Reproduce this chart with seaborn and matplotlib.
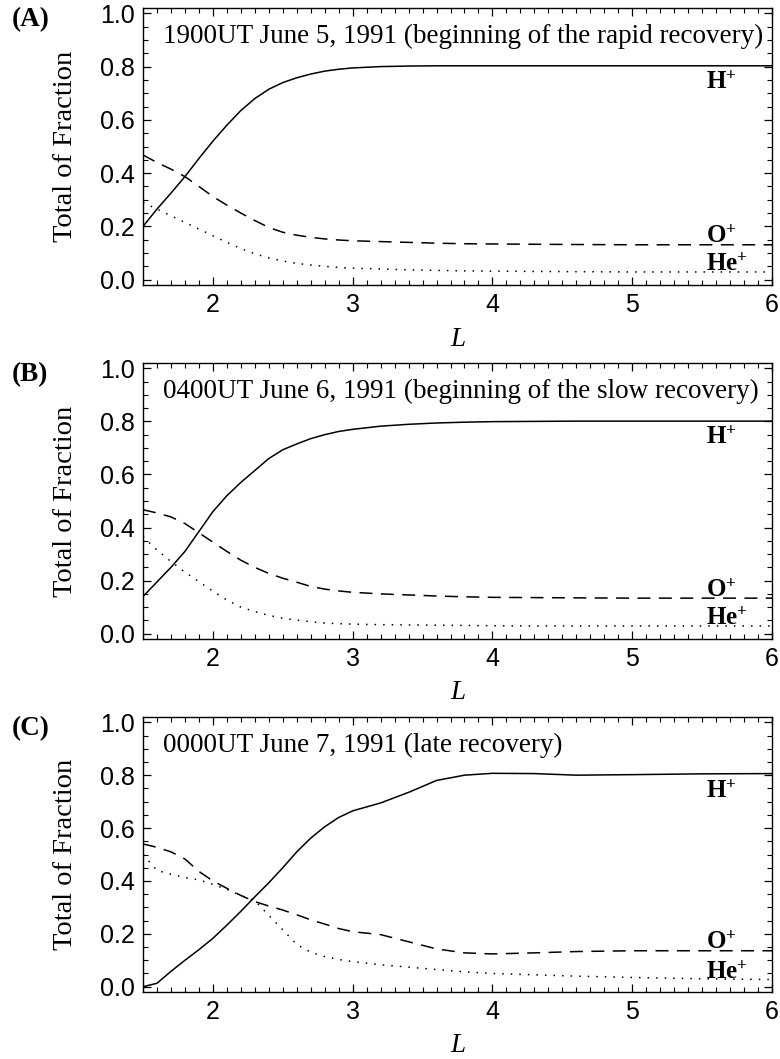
import matplotlib
matplotlib.use("Agg")
import matplotlib.pyplot as plt
import seaborn as sns
import pandas as pd
from matplotlib.ticker import FixedLocator, MultipleLocator, FormatStrFormatter

sns.set_theme(style="white")
plt.rcParams["font.family"] = ["Liberation Serif", "DejaVu Serif"]
plt.rcParams["mathtext.fontset"] = "custom"
plt.rcParams["mathtext.rm"] = "Liberation Serif"
plt.rcParams["mathtext.bf"] = "Liberation Serif:bold"
plt.rcParams["mathtext.it"] = "Liberation Serif:italic"

# ---------------- data ----------------
L = [1.5, 1.6, 1.7, 1.8, 1.9, 2.0, 2.1, 2.2, 2.3, 2.4, 2.5, 2.6, 2.7, 2.8, 2.9,
     3.0, 3.2, 3.4, 3.6, 3.8, 4.0, 4.3, 4.6, 5.0, 5.5, 6.0]

panel_labels = ["(A)", "(B)", "(C)"]
titles = ["1900UT June 5, 1991 (beginning of the rapid recovery)",
          "0400UT June 6, 1991 (beginning of the slow recovery)",
          "0000UT June 7, 1991 (late recovery)"]
ions = ["H+", "O+", "He+"]
ion_texts = [r"$\mathbf{H}^{\mathbf{+}}$", r"$\mathbf{O}^{\mathbf{+}}$", r"$\mathbf{He}^{\mathbf{+}}$"]

h_a = [0.20, 0.265, 0.325, 0.387, 0.455, 0.52, 0.58, 0.635, 0.68, 0.715, 0.74, 0.758, 0.772,
       0.783, 0.79, 0.795, 0.80, 0.802, 0.803, 0.803, 0.803, 0.803, 0.803, 0.803, 0.803, 0.803]
o_a = [0.468, 0.44, 0.415, 0.387, 0.35, 0.312, 0.28, 0.25, 0.222, 0.196, 0.178, 0.167, 0.159,
       0.153, 0.149, 0.146, 0.143, 0.14, 0.137, 0.135, 0.134, 0.133, 0.132, 0.131, 0.131, 0.131]
he_a = [0.29, 0.265, 0.24, 0.215, 0.19, 0.165, 0.14, 0.117, 0.097, 0.082, 0.07, 0.061, 0.055,
        0.05, 0.046, 0.043, 0.04, 0.037, 0.035, 0.033, 0.032, 0.031, 0.03, 0.029, 0.029, 0.029]

h_b = [0.14, 0.195, 0.25, 0.31, 0.385, 0.46, 0.52, 0.57, 0.615, 0.66, 0.693, 0.715, 0.735,
       0.75, 0.762, 0.77, 0.782, 0.789, 0.794, 0.797, 0.799, 0.80, 0.801, 0.801, 0.801, 0.801]
o_b = [0.467, 0.455, 0.44, 0.415, 0.38, 0.345, 0.31, 0.277, 0.25, 0.227, 0.209, 0.194, 0.178,
       0.168, 0.161, 0.156, 0.15, 0.146, 0.142, 0.139, 0.137, 0.136, 0.135, 0.134, 0.134, 0.134]
he_b = [0.366, 0.315, 0.272, 0.232, 0.196, 0.16, 0.127, 0.10, 0.083, 0.069, 0.058, 0.051, 0.045,
        0.04, 0.038, 0.036, 0.034, 0.033, 0.032, 0.031, 0.030, 0.029, 0.029, 0.029, 0.029, 0.029]

h_c = [0.0, 0.013, 0.058, 0.10, 0.14, 0.183, 0.233, 0.285, 0.34, 0.393, 0.45, 0.51, 0.562,
       0.605, 0.64, 0.665, 0.695, 0.735, 0.78, 0.80, 0.807, 0.806, 0.80, 0.802, 0.805, 0.806]
o_c = [0.54, 0.527, 0.51, 0.483, 0.436, 0.40, 0.372, 0.345, 0.322, 0.305, 0.29, 0.272, 0.253,
       0.237, 0.22, 0.208, 0.197, 0.17, 0.143, 0.128, 0.124, 0.128, 0.133, 0.136, 0.136, 0.136]
he_c = [0.50, 0.44, 0.425, 0.413, 0.404, 0.387, 0.368, 0.345, 0.325, 0.27, 0.215, 0.16, 0.13,
        0.114, 0.103, 0.095, 0.083, 0.074, 0.065, 0.056, 0.05, 0.045, 0.04, 0.035, 0.03, 0.027]

series = [(h_a, o_a, he_a), (h_b, o_b, he_b), (h_c, o_c, he_c)]

y_ticks = [0.0, 0.2, 0.4, 0.6, 0.8, 1.0]
x_ticks = [2, 3, 4, 5, 6]

# ---------------- layout ----------------
W, H = 780, 1059
fig = plt.figure(figsize=(W / 100, H / 100), dpi=100)
fig.patch.set_facecolor("white")
boxes = [(8, 285), (363, 639), (717, 992)]
left_px, right_px = 143, 772

dashes = {"H+": "", "O+": (8.5, 5.5), "He+": (1.0, 4.6)}

for i, (top, bot) in enumerate(boxes):
    ax = fig.add_axes([left_px / W, 1 - bot / H, (right_px - left_px) / W, (bot - top) / H])
    ax.set_facecolor("white")
    h, o, he = series[i]
    n = len(L)
    df = pd.DataFrame({"L": L * 3, "frac": h + o + he,
                       "ion": ["H+"] * n + ["O+"] * n + ["He+"] * n})
    sns.lineplot(data=df, x="L", y="frac", style="ion", dashes=dashes,
                 color="black", linewidth=1.1, legend=False, ax=ax,
                 estimator=None, sort=False)

    ax.set_xlim(1.5, 6.0)
    ax.set_ylim(-0.02, 1.02)
    ax.xaxis.set_major_locator(FixedLocator(x_ticks))
    ax.xaxis.set_minor_locator(MultipleLocator(0.1))
    ax.yaxis.set_major_locator(FixedLocator(y_ticks))
    ax.yaxis.set_minor_locator(MultipleLocator(0.05))
    ax.yaxis.set_major_formatter(FormatStrFormatter("%.1f"))
    ax.xaxis.set_major_formatter(FormatStrFormatter("%d"))
    ax.tick_params(which="both", direction="in", top=True, right=True,
                   bottom=True, left=True, color="black")
    ax.tick_params(which="major", length=6, width=0.9, labelsize=18, pad=6,
                   labelcolor="black", labelfontfamily="Liberation Sans")
    ax.tick_params(which="minor", length=3.5, width=0.8)
    for s in ax.spines.values():
        s.set_color("black")
        s.set_linewidth(1.0)
        s.set_visible(True)

    ax.set_ylabel("Total of Fraction", fontsize=20.5, color="black")
    ax.yaxis.set_label_coords(-0.103, 0.5)
    ax.set_xlabel("L", fontsize=19.5, style="italic", color="black")
    ax.xaxis.set_label_coords(0.5, -0.15)

    ax.text(0.032, 0.874, titles[i], transform=ax.transAxes, fontsize=19.5,
            ha="left", va="baseline", color="black")

    # species labels
    ax.text(5.53, 0.715, ion_texts[0], fontsize=18, ha="left", va="baseline", color="black")
    ax.text(5.53, o[-1] + 0.006, ion_texts[1], fontsize=18, ha="left", va="baseline", color="black")
    ax.text(5.53, he[-1] + 0.004, ion_texts[2], fontsize=18, ha="left", va="baseline", color="black")

    fig.text(12 / W, 1 - (top + 18) / H, panel_labels[i], fontsize=19.5,
             fontweight="bold", ha="left", va="baseline", color="black")

fig.savefig("out.png", dpi=100, facecolor="white")
